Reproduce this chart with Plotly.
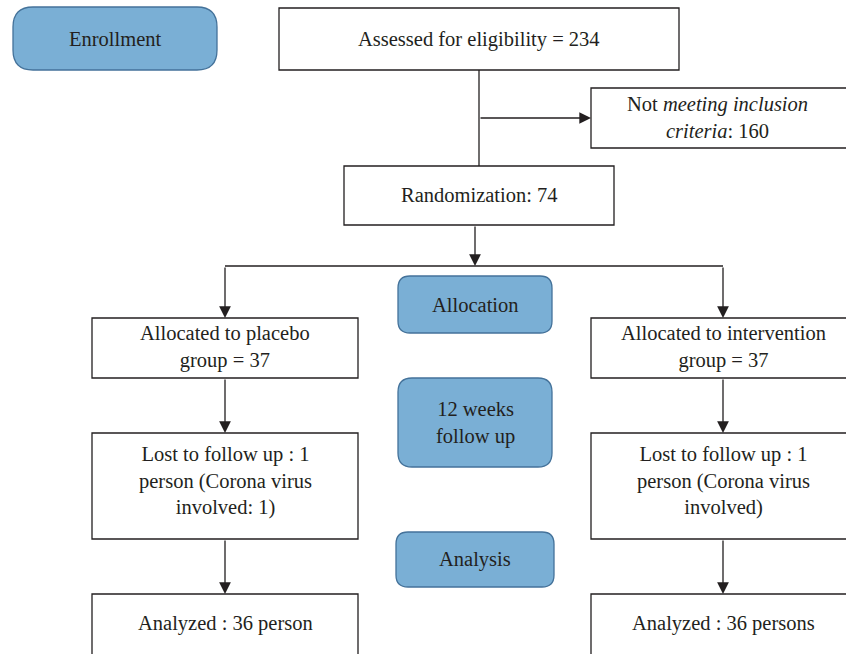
import plotly.graph_objects as go

# ---- content ----
stage_labels = ["Enrollment", "Allocation", "12 weeks<br>follow up", "Analysis"]
box_labels = [
    "Assessed for eligibility = 234",
    "Not <i>meeting inclusion</i><br><i>criteria</i>: 160",
    "Randomization: 74",
    "Allocated to placebo<br>group = 37",
    "Allocated to intervention<br>group = 37",
    "Lost to follow up : 1<br>person (Corona virus<br>involved: 1)",
    "Lost to follow up : 1<br>person (Corona virus<br>involved)",
    "Analyzed : 36 person",
    "Analyzed : 36 persons",
]

# ---- layout geometry (pixel space) ----
W, H = 846, 654
stage_boxes = [(13, 7, 217, 70, 20), (398, 276, 552, 333, 12),
               (398, 378, 552, 467, 14), (396, 532, 554, 587, 12)]
rect_boxes = [(279, 8, 679, 70), (591, 88, 860, 148), (344, 166, 614, 225),
              (92, 318, 358, 378), (591, 318, 860, 378),
              (92, 433, 358, 539), (591, 433, 860, 539),
              (92, 594, 358, 660), (591, 594, 860, 660)]
text_pos = [(479, 39), (717, 117), (479, 195), (225, 347), (723, 347),
            (225, 481), (723, 481), (225, 623), (723, 623)]

INK = "#231F20"
FILL = "#7AAFD5"
EDGE = "#44729A"
FONT = "Liberation Serif"
FS = 20.5

fig = go.Figure()
shapes = []
annotations = []

def rounded(x0, y0, x1, y1, r):
    return (f"M{x0+r},{y0} L{x1-r},{y0} Q{x1},{y0} {x1},{y0+r} "
            f"L{x1},{y1-r} Q{x1},{y1} {x1-r},{y1} L{x0+r},{y1} "
            f"Q{x0},{y1} {x0},{y1-r} L{x0},{y0+r} Q{x0},{y0} {x0+r},{y0} Z")

for (x0, y0, x1, y1, r), lab in zip(stage_boxes, stage_labels):
    shapes.append(dict(type="path", path=rounded(x0, y0, x1, y1, r),
                       xref="x", yref="y", fillcolor=FILL,
                       line=dict(color=EDGE, width=1.3)))
    annotations.append(dict(x=(x0 + x1) / 2, y=(y0 + y1) / 2, text=lab,
                            showarrow=False, xref="x", yref="y",
                            font=dict(family=FONT, size=FS, color=INK)))

for (x0, y0, x1, y1), lab, (tx, ty) in zip(rect_boxes, box_labels, text_pos):
    shapes.append(dict(type="rect", x0=x0, y0=y0, x1=x1, y1=y1,
                       xref="x", yref="y", fillcolor="white",
                       line=dict(color=INK, width=1.3)))
    annotations.append(dict(x=tx, y=ty, text=lab, showarrow=False,
                            xref="x", yref="y",
                            font=dict(family=FONT, size=FS, color=INK)))

# connector lines
lines = [(479, 70, 479, 166), (225, 266, 723, 266)]
for x0, y0, x1, y1 in lines:
    shapes.append(dict(type="line", x0=x0, y0=y0, x1=x1, y1=y1,
                       xref="x", yref="y", line=dict(color=INK, width=1.3)))

# arrows (tail -> head)
arrows = [(479, 118, 591, 118), (475, 225, 475, 266),
          (225, 266, 225, 318), (723, 266, 723, 318),
          (225, 378, 225, 433), (723, 378, 723, 433),
          (225, 539, 225, 594), (723, 539, 723, 594)]
for x0, y0, x1, y1 in arrows:
    annotations.append(dict(x=x1, y=y1, ax=x0, ay=y0, xref="x", yref="y",
                            axref="x", ayref="y", showarrow=True, text="",
                            arrowhead=2, arrowsize=1.8, arrowwidth=1.3,
                            arrowcolor=INK, standoff=0))

fig.update_layout(
    width=W, height=H, margin=dict(l=0, r=0, t=0, b=0),
    paper_bgcolor="white", plot_bgcolor="white",
    xaxis=dict(range=[0, W], visible=False, fixedrange=True),
    yaxis=dict(range=[H, 0], visible=False, fixedrange=True),
    shapes=shapes, annotations=annotations, showlegend=False,
)
fig.write_html("out.html", config={"displayModeBar": False},
               post_script="document.body.style.margin='0';document.body.style.overflow='hidden';")
